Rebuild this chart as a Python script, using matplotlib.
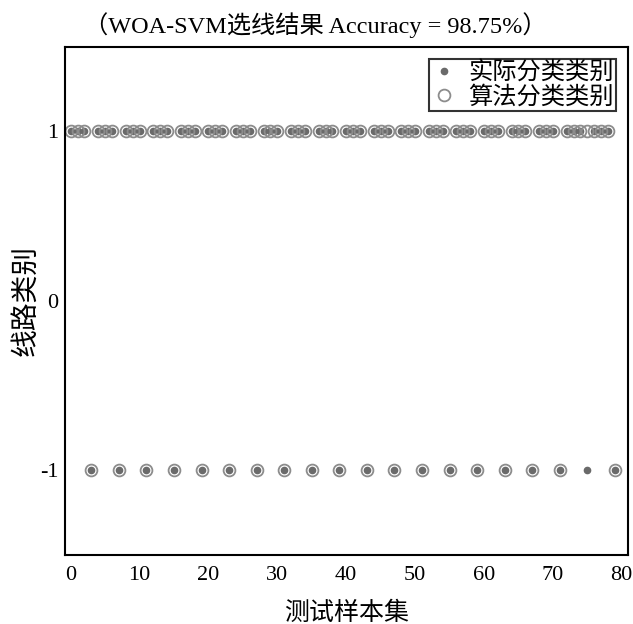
import numpy as np
import matplotlib
matplotlib.use("Agg")
import matplotlib.pyplot as plt

plt.rcParams['font.family'] = ['Liberation Serif', 'Noto Sans CJK SC']
plt.rcParams['axes.unicode_minus'] = False

# 测试样本 (80个)
samples = np.arange(80)
# 实际分类类别: 每4个样本中第4个为 -1
actual = [1, 1, 1, -1] * 20
# 算法分类类别: 第75号样本判错
predicted = list(actual)
predicted[75] = 1

yticks = [-1, 0, 1]
xticks = [0, 10, 20, 30, 40, 50, 60, 70, 80]

fig = plt.figure(figsize=(6.33, 6.24), dpi=100)
ax = fig.add_axes([0.103, 0.111, 0.889, 0.814])

ax.plot(samples, actual, linestyle="none", marker="o", markersize=4.5,
        color="#6a6a6a", label="实际分类类别")
ax.plot(samples, predicted, linestyle="none", marker="o", markersize=8.5,
        markerfacecolor="none", markeredgecolor="#8c8c8c", markeredgewidth=1.3,
        label="算法分类类别")

ax.set_xlim(-0.8, 80.9)
ax.set_ylim(-1.5, 1.5)
ax.set_xticks(xticks)
ax.set_yticks(yticks)
ax.set_yticklabels(["-1", "0", "1"])
ax.tick_params(axis="x", length=0, labelsize=16, pad=8)
ax.tick_params(axis="y", length=0, labelsize=16, pad=5)
for sp in ax.spines.values():
    sp.set_linewidth(1.5)

ax.set_title("（WOA-SVM选线结果 Accuracy = 98.75%）", fontsize=17.5, pad=10, x=0.445)
ax.set_xlabel("测试样本集", fontsize=18, labelpad=12)
ax.set_ylabel("线路类别", fontsize=20)
ax.yaxis.set_label_coords(-0.046, 0.5)

leg = ax.legend(loc="upper right", fontsize=17.5, frameon=True, fancybox=False,
                edgecolor="black", borderpad=0.1, handletextpad=0.5,
                labelspacing=0.05, borderaxespad=0.5, handlelength=1.0)
leg.get_frame().set_linewidth(1.5)

fig.savefig("out.png", dpi=100)
